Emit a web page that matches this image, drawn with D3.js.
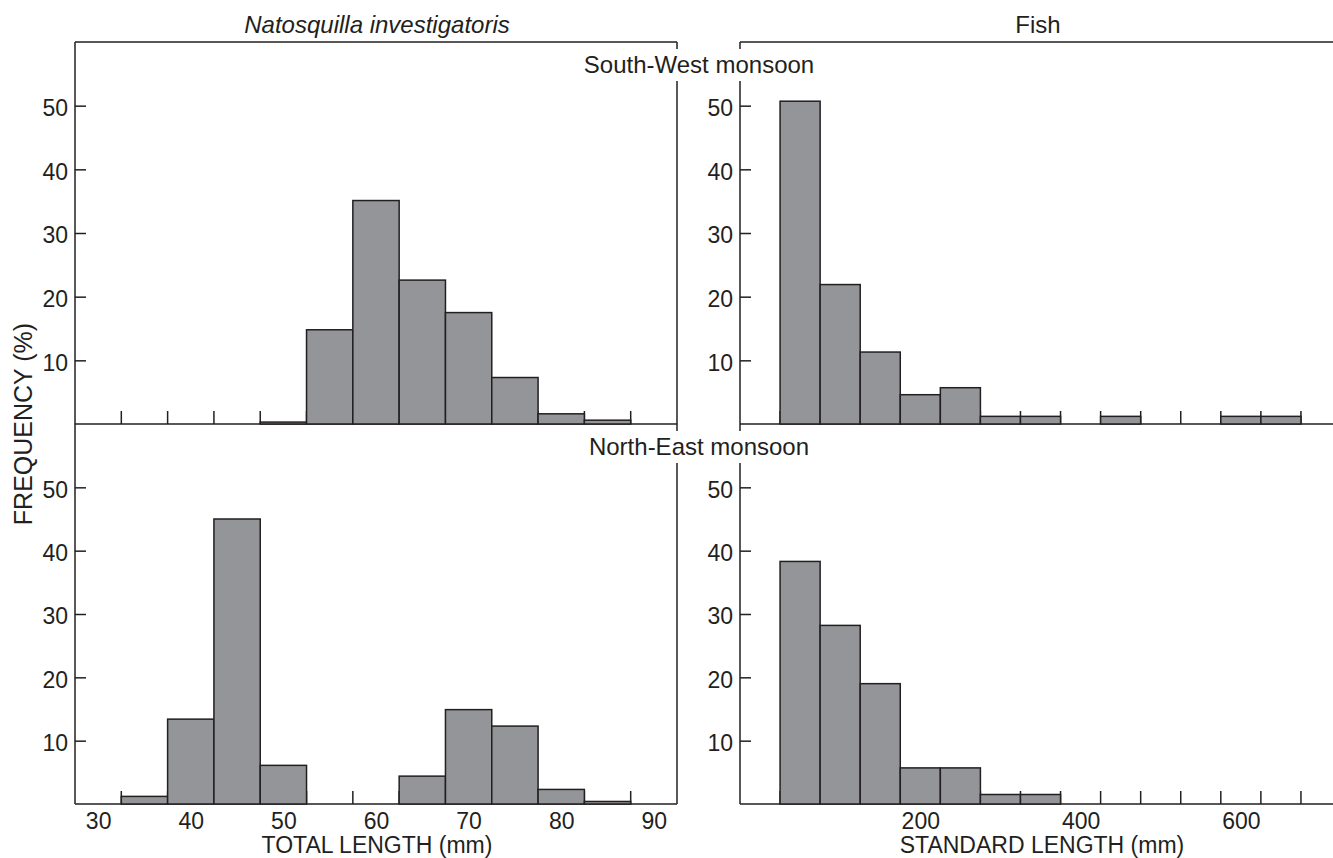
<!DOCTYPE html>
<html>
<head>
<meta charset="utf-8">
<script src="https://cdn.jsdelivr.net/npm/d3@7"></script>
<style>
  body { margin: 0; background: #fff; }
  text { font-family: "Liberation Sans", Arial, sans-serif; fill: #231f20; }
</style>
</head>
<body>
<svg id="chart" width="1333" height="858"></svg>
<script>
// bin centres (mm) for each species
var shrimpBins = [35, 40, 45, 50, 55, 60, 65, 70, 75, 80, 85];
var fishBins = [50, 100, 150, 200, 250, 300, 350, 400, 450, 500, 550, 600, 650];

// frequency (%)
var shrimpSW = [0, 0, 0, 0.3, 14.8, 35.1, 22.6, 17.5, 7.3, 1.6, 0.6];
var shrimpNE = [1.2, 13.4, 45, 6.1, 0, 0, 4.4, 14.9, 12.3, 2.3, 0.4];
var fishSW = [50.7, 21.9, 11.3, 4.6, 5.7, 1.2, 1.2, 0, 1.2, 0, 0, 1.2, 1.2];
var fishNE = [38.3, 28.2, 19, 5.7, 5.7, 1.5, 1.5, 0, 0, 0, 0, 0, 0];

var yTicks = [10, 20, 30, 40, 50];
var shrimpLabels = [30, 40, 50, 60, 70, 80, 90];
var fishLabels = [200, 400, 600];
var shrimpEdges = [32.5, 37.5, 42.5, 47.5, 52.5, 57.5, 62.5, 67.5, 72.5, 77.5, 82.5, 87.5];
var fishEdges = [25, 75, 125, 175, 225, 275, 325, 375, 425, 475, 525, 575, 625, 675];

var svg = d3.select("#chart");
var top0 = 42, mid = 424, bot = 804;
var lx0 = 75, lx1 = 677, rx0 = 740, rx1 = 1333;
var ink = "#231f20";

var xL = d3.scaleLinear().domain([27.5, 92.5]).range([lx0, lx1]);
var xR = d3.scaleLinear().domain([-25, 715]).range([rx0, rx1]);
var yTop = d3.scaleLinear().domain([0, 60]).range([mid, top0]);
var yBot = d3.scaleLinear().domain([0, 60]).range([bot, mid]);

function frameLine(x1, y1, x2, y2) {
    svg.append("line")
        .attr("x1", x1).attr("y1", y1).attr("x2", x2).attr("y2", y2)
        .style("stroke", ink).style("stroke-width", 1.5);
}

// panel frames
frameLine(lx0, top0, lx1, top0);
frameLine(lx0, top0, lx0, bot);
frameLine(lx1, top0, lx1, bot);
frameLine(lx0, mid, lx1, mid);
frameLine(lx0, bot, lx1, bot);
frameLine(rx0, top0, rx1, top0);
frameLine(rx0, top0, rx0, bot);
frameLine(rx0, mid, rx1, mid);
frameLine(rx0, bot, rx1, bot);

function drawPanel(x, y, bins, values, width, edges) {
    var g = svg.append("g");

    // y axis, ticks pointing inward
    var ya = g.append("g")
        .attr("transform", `translate(${x.range()[0]},0)`)
        .call(d3.axisLeft(y).tickValues(yTicks).tickSize(-11).tickPadding(7));
    ya.select(".domain").remove();
    ya.selectAll("line").style("stroke", ink).style("stroke-width", 1.5);
    ya.selectAll("text").attr("dy", "0.42em")
        .style("font-size", "23px").style("font-family", "Liberation Sans, Arial, sans-serif").style("fill", ink);

    // bin-edge ticks on the x axis (upward)
    g.selectAll(".edge")
        .data(edges)
        .enter().append("line")
        .attr("class", "edge")
        .attr("x1", d => x(d)).attr("x2", d => x(d))
        .attr("y1", y(0)).attr("y2", y(0) - 13)
        .style("stroke", ink).style("stroke-width", 1.5);

    // bars
    var data = bins.map((b, i) => ({ c: b, v: values[i] })).filter(d => d.v > 0);
    g.selectAll(".bar")
        .data(data)
        .enter().append("rect")
        .attr("class", "bar")
        .attr("x", d => x(d.c - width / 2))
        .attr("width", d => x(d.c + width / 2) - x(d.c - width / 2))
        .attr("y", d => y(d.v))
        .attr("height", d => y(0) - y(d.v))
        .style("fill", "#939598")
        .style("stroke", ink)
        .style("stroke-width", 1.5);
}

drawPanel(xL, yTop, shrimpBins, shrimpSW, 5, shrimpEdges);
drawPanel(xL, yBot, shrimpBins, shrimpNE, 5, shrimpEdges);
drawPanel(xR, yTop, fishBins, fishSW, 50, fishEdges);
drawPanel(xR, yBot, fishBins, fishNE, 50, fishEdges);

// x tick labels
var xaL = svg.append("g")
    .attr("transform", `translate(0,${bot})`)
    .call(d3.axisBottom(xL).tickValues(shrimpLabels).tickSize(0).tickPadding(9));
var xaR = svg.append("g")
    .attr("transform", `translate(0,${bot})`)
    .call(d3.axisBottom(xR).tickValues(fishLabels).tickSize(0).tickPadding(9));
[xaL, xaR].forEach(function(a) {
    a.select(".domain").remove();
    a.selectAll("text").style("font-size", "23px").style("font-family", "Liberation Sans, Arial, sans-serif").style("fill", ink);
});

// titles
svg.append("text")
    .attr("x", 377).attr("y", 33)
    .attr("text-anchor", "middle")
    .style("font-size", "24px").style("font-style", "italic")
    .text("Natosquilla investigatoris");

svg.append("text")
    .attr("x", 1038).attr("y", 33)
    .attr("text-anchor", "middle")
    .style("font-size", "24px")
    .text("Fish");

// season labels with white backing to break the frame lines
function seasonLabel(label, cx, cy) {
    svg.append("rect")
        .attr("x", cx - 120).attr("y", cy - 24)
        .attr("width", 240).attr("height", 32)
        .style("fill", "#fff");
    svg.append("text")
        .attr("x", cx).attr("y", cy)
        .attr("text-anchor", "middle")
        .style("font-size", "24px")
        .text(label);
}
seasonLabel("South-West monsoon", 699, 73);
seasonLabel("North-East monsoon", 699, 455);

// axis titles
svg.append("text")
    .attr("transform", `translate(32,${mid}) rotate(-90)`)
    .attr("text-anchor", "middle")
    .style("font-size", "25px")
    .text("FREQUENCY (%)");

svg.append("text")
    .attr("x", 377).attr("y", 853)
    .attr("text-anchor", "middle")
    .style("font-size", "23px")
    .text("TOTAL LENGTH (mm)");

svg.append("text")
    .attr("x", 1042).attr("y", 853)
    .attr("text-anchor", "middle")
    .style("font-size", "23px")
    .text("STANDARD LENGTH (mm)");
</script>
</body>
</html>
